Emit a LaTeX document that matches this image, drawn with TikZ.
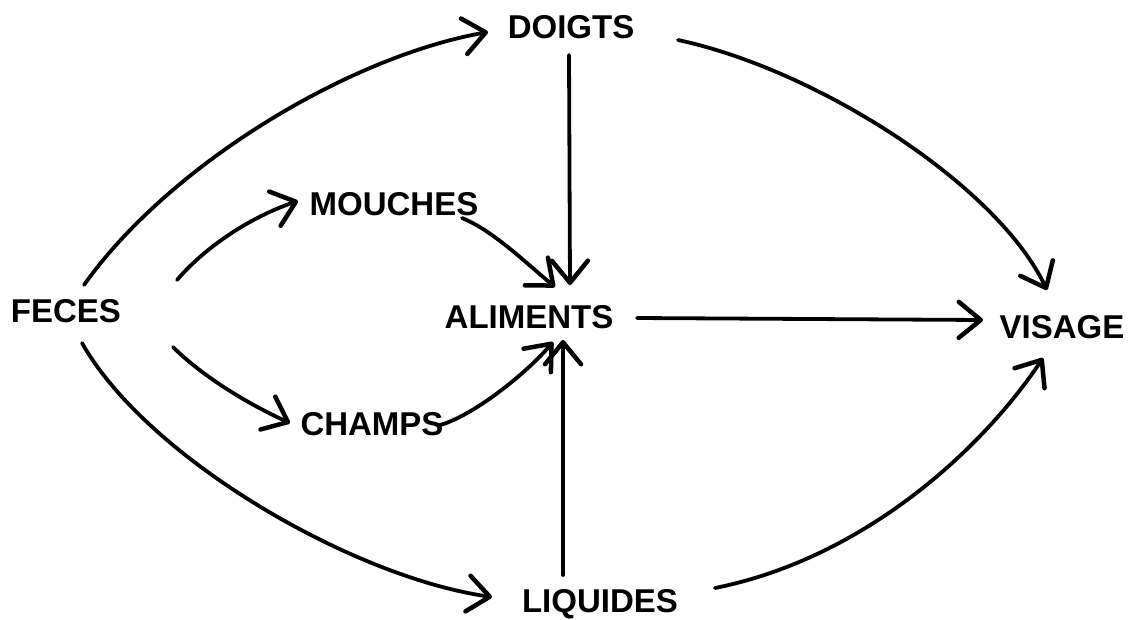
\documentclass[tikz,border=0pt]{standalone}
\usepackage{fontspec}
\setmainfont{Liberation Sans}
\usetikzlibrary{arrows.meta,calc}
\begin{document}
\begin{tikzpicture}[x=1pt,y=-1pt,
  lbl/.style={anchor=base,inner sep=0pt,font=\fontsize{33}{38}\selectfont\bfseries},
  conn/.style={line width=3.8pt,line cap=round,-{Straight Barb[length=22pt,width=36pt,round,line width=4.5pt]}}]
\useasboundingbox (0,0) rectangle (1133,619);
\node[lbl] (feces) at (66,322) {FECES};
\node[lbl] (doigts) at (571,38) {DOIGTS};
\node[lbl] (mouches) at (394,215) {MOUCHES};
\node[lbl] (aliments) at (529,328) {ALIMENTS};
\node[lbl] (champs) at (372,435) {CHAMPS};
\node[lbl] (visage) at (1062,338) {VISAGE};
\node[lbl] (liquides) at (600,612) {LIQUIDES};
% FECES out
\draw[conn] ($(feces.base)+(18,-37)$) .. controls +(85,-120) and +(-140,25) .. ($(doigts.base)+(-83,-6)$);
\draw[conn] ($(feces.base)+(111,-42)$) .. controls +(30,-35) and +(-45,15) .. ($(mouches.base)+(-96,-14)$);
\draw[conn] ($(feces.base)+(107,25)$) .. controls +(30,30) and +(-40,-18) .. ($(champs.base)+(-82,-12)$);
\draw[conn] ($(feces.base)+(16,21)$) .. controls +(65,115) and +(-140,-20) .. ($(liquides.base)+(-108,-15)$);
% into ALIMENTS
\draw[conn] ($(mouches.base)+(68,3)$) .. controls +(30,12) and +(-30,-25) .. ($(aliments.base)+(26,-41)$);
\draw[conn] ($(doigts.base)+(-2,17)$) -- ($(aliments.base)+(41,-43)$);
\draw[conn] ($(champs.base)+(68,-10)$) .. controls +(30,-8) and +(-30,35) .. ($(aliments.base)+(24,14)$);
\draw[conn] ($(liquides.base)+(-37,-37)$) -- ($(aliments.base)+(34,12)$);
% into VISAGE
\draw[conn] ($(aliments.base)+(108,-10)$) -- ($(visage.base)+(-79,-18)$);
\draw[conn] ($(doigts.base)+(107,2)$) .. controls +(140,30) and +(-50,-105) .. ($(visage.base)+(-15,-48)$);
\draw[conn] ($(liquides.base)+(115,-24)$) .. controls +(150,-30) and +(-60,90) .. ($(visage.base)+(-19,20)$);
\end{tikzpicture}
\end{document}
